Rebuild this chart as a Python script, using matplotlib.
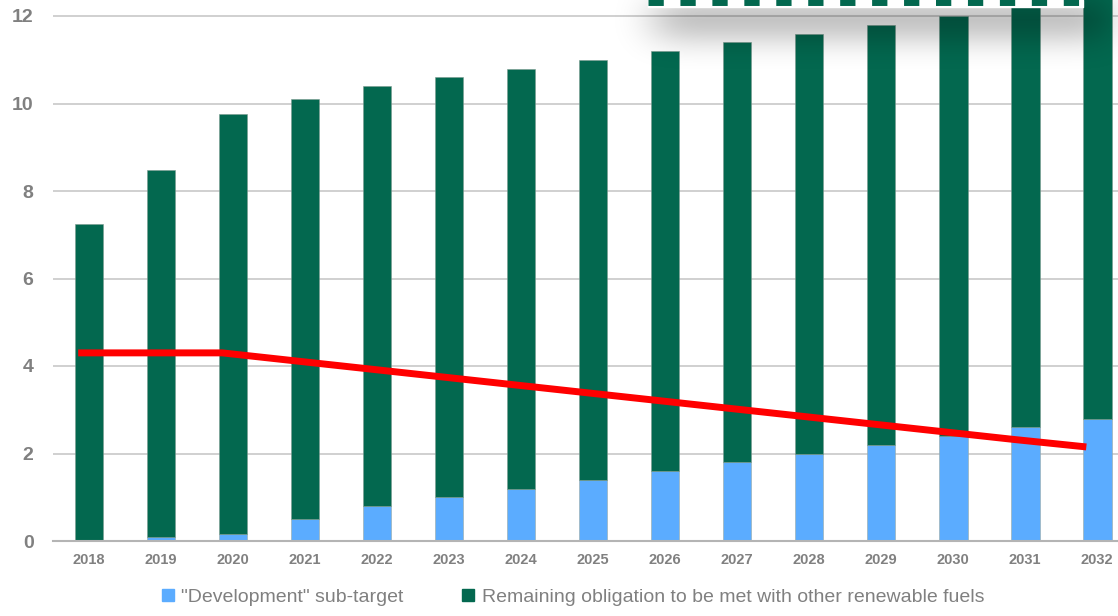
import numpy as np
import matplotlib
matplotlib.use("Agg")
import matplotlib.pyplot as plt
from matplotlib.lines import Line2D

plt.rcParams['font.family'] = ['Liberation Sans', 'DejaVu Sans']

years = ['2018', '2019', '2020', '2021', '2022', '2023', '2024', '2025',
         '2026', '2027', '2028', '2029', '2030', '2031', '2032']
development = [0.02, 0.1, 0.15, 0.5, 0.8, 1.0, 1.2, 1.4, 1.6, 1.8, 2.0, 2.2, 2.4, 2.6, 2.8]
remaining = [7.23, 8.38, 9.6, 9.6, 9.6, 9.6, 9.6, 9.6, 9.6, 9.6, 9.6, 9.6, 9.6, 9.6, 9.8]
red_line = [4.3, 4.3, 4.3, 4.12, 3.94, 3.76, 3.58, 3.4, 3.22, 3.04, 2.86, 2.68, 2.5, 2.32, 2.15]
yticks = [0, 2, 4, 6, 8, 10, 12]

green = '#03684F'
blue = '#5BACFF'
gray = '#808080'

W, H = 1118, 616
fig = plt.figure(figsize=(W / 100, H / 100), dpi=100)
ax = fig.add_axes([53 / W, 75 / H, 1 - 53 / W, 1 - 75 / H])

x = np.arange(len(years))
ax.bar(x, development, width=0.4, color=blue, edgecolor='#9aa9a4', linewidth=0.4, zorder=2)
ax.bar(x, remaining, width=0.4, bottom=development, color=green,
       edgecolor='#7c9a90', linewidth=0.4, zorder=2)
ax.plot(x - 0.15, red_line, color='#FF0000', linewidth=5, solid_capstyle='butt', zorder=3)

ax.set_xlim(-0.5, 14.29)
ax.set_ylim(0, 541 / 43.75)
ax.set_yticks(yticks)
ax.set_yticklabels([str(v) for v in yticks], fontsize=14, fontweight='bold', color=gray)
ax.set_xticks(x)
ax.set_xticklabels(years, fontsize=10.5, fontweight='bold', color=gray)
ax.tick_params(axis='y', length=0, pad=14)
ax.tick_params(axis='x', length=0, pad=9)
ax.grid(axis='y', color='#C8C8C8', linewidth=1.2, zorder=0)
ax.set_axisbelow(True)
for s in ['top', 'right', 'left']:
    ax.spines[s].set_visible(False)
ax.spines['bottom'].set_color('#B4B4B4')
ax.spines['bottom'].set_linewidth(1.5)

# legend
handles = [Line2D([], [], marker='s', linestyle='none', color=blue, markersize=8),
           Line2D([], [], marker='s', linestyle='none', color=green, markersize=8)]
labels = ['"Development" sub-target', 'Remaining obligation to be met with other renewable fuels']
fig.legend(handles, labels, loc='lower center', bbox_to_anchor=(572 / W, -0.012), ncol=2,
           frameon=False, fontsize=14, labelcolor=gray, handletextpad=0.3,
           columnspacing=2.9, handlelength=0.8)

# clipped box with shadow at top right
shadow = np.zeros((H, W))
shadow[0:24, 655:1110] = 1.0
k = np.ones(39) / 39
for _ in range(3):
    shadow = np.apply_along_axis(lambda r: np.convolve(r, k, mode='same'), 0, shadow)
    shadow = np.apply_along_axis(lambda r: np.convolve(r, k, mode='same'), 1, shadow)
rgba = np.zeros((H, W, 4))
rgba[..., 3] = shadow * 0.62
ov = fig.add_axes([0, 0, 1, 1], zorder=5)
ov.imshow(rgba, extent=(0, W, H, 0), aspect='auto', interpolation='bilinear')
ov.fill_between([648, 1083], 0, 7, color='white', zorder=3)
ov.plot([648, 1080], [1.5, 1.5], color=green, linewidth=5, linestyle=(0, (2.2, 2.4)),
        solid_capstyle='butt', dash_capstyle='butt', zorder=4)
ov.set_xlim(0, W)
ov.set_ylim(H, 0)
ov.axis('off')

fig.savefig('out.png', dpi=100)
